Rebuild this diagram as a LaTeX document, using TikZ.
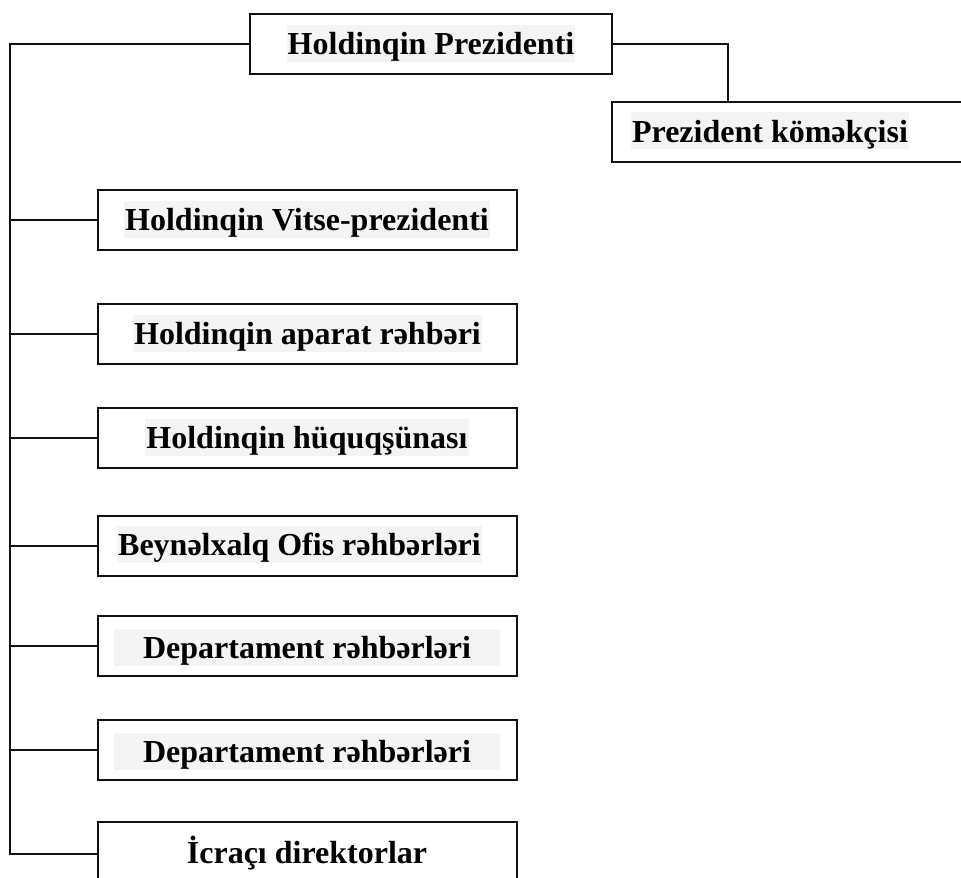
\documentclass[tikz,border=0pt]{standalone}
\usepackage{fontspec}
\setmainfont{Liberation Serif}
\definecolor{hl}{HTML}{F4F4F4}
\definecolor{ink}{HTML}{111111}
\tikzset{
  orgbox/.style={draw=ink, line width=1.9pt, rectangle, inner sep=0pt},
  leftbox/.style={orgbox, minimum width=419pt, minimum height=60pt},
  lbl/.style={fill=hl, anchor=base, inner xsep=1pt, inner ysep=0pt,
    text height=29.7pt, text depth=7.3pt,
    font=\fontsize{32}{38}\selectfont\bfseries},
  conn/.style={draw=ink, line width=1.8pt}
}
\begin{document}
\begin{tikzpicture}[x=1pt,y=1pt]
\useasboundingbox (0,0) rectangle (961,-878);
% boxes
\node[orgbox, minimum width=362pt, minimum height=60pt] (pres) at (431,-44) {};
\node[orgbox, minimum width=360pt, minimum height=60pt] (asst) at (792,-132) {};
\node[leftbox] (vp) at (307.2,-220) {};
\node[leftbox] (ap) at (307.2,-334) {};
\node[leftbox] (hq) at (307.2,-438) {};
\node[leftbox] (bo) at (307.2,-546) {};
\node[leftbox] (d1) at (307.2,-646) {};
\node[leftbox] (d2) at (307.2,-750) {};
\node[leftbox, minimum height=64pt] (ic) at (307.2,-854) {};
% labels
\node[lbl] (tpres) at (431,-54.7) {Holdinqin Prezidenti};
\node[lbl] (tasst) at (770,-142) {Prezident köməkçisi};
\node[lbl] (tvp) at (307,-230.7) {Holdinqin Vitse-prezidenti};
\node[lbl] (tap) at (307.5,-344.7) {Holdinqin aparat rəhbəri};
\node[lbl] (thq) at (307,-448.7) {Holdinqin hüquqşünası};
\node[lbl] (tbo) at (299.5,-555.7) {Beynəlxalq Ofis rəhbərləri};
\node[lbl, inner xsep=29pt] (td1) at (307,-658.7) {Departament rəhbərləri};
\node[lbl, inner xsep=29pt] (td2) at (307,-762.7) {Departament rəhbərləri};
\node[lbl, fill=none] (tic) at (307,-863) {İcraçı direktorlar};
% connectors
\coordinate (spineTop) at (10,-44);
\coordinate (spineBot) at (10,-854);
\coordinate (ac) at (728,-44);
\draw[conn] (pres.west) -- (spineTop) -- (spineBot) -- (ic.west);
\draw[conn] (pres.east) -- (ac) -- (ac |- asst.north);
\draw[conn] (spineTop |- vp.west) -- (vp.west);
\draw[conn] (spineTop |- ap.west) -- (ap.west);
\draw[conn] (spineTop |- hq.west) -- (hq.west);
\draw[conn] (spineTop |- bo.west) -- (bo.west);
\draw[conn] (spineTop |- d1.west) -- (d1.west);
\draw[conn] (spineTop |- d2.west) -- (d2.west);
\end{tikzpicture}
\end{document}
